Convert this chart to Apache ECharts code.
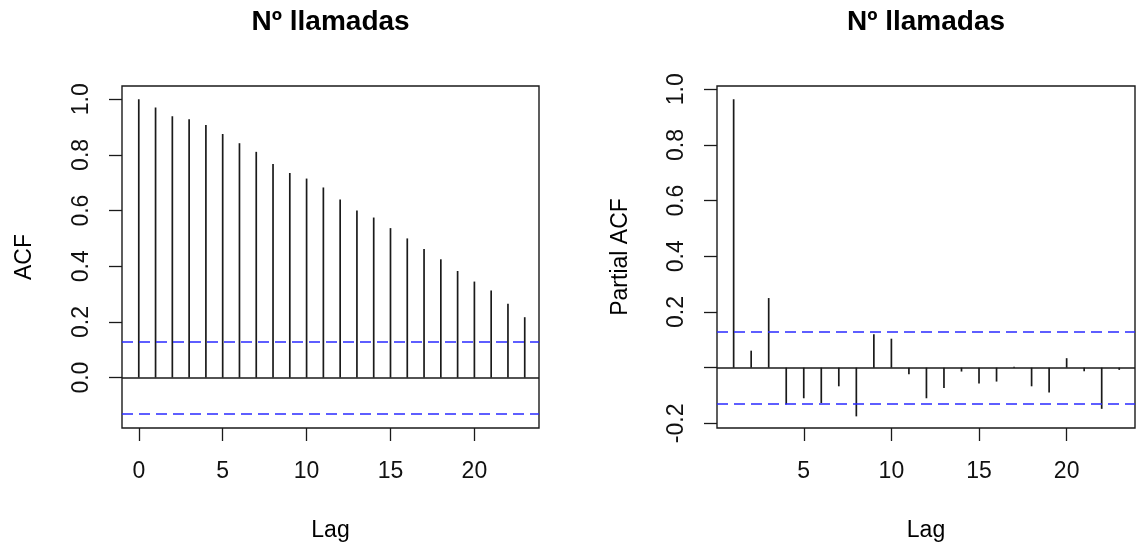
<!DOCTYPE html>
<html>
<head>
<meta charset="utf-8">
<title>Nº llamadas - ACF / PACF</title>
<script src="https://cdn.jsdelivr.net/npm/echarts@6/dist/echarts.min.js"></script>
<style>
  html, body { margin: 0; padding: 0; background: #fff; }
  #chart { width: 1138px; height: 547px; }
</style>
</head>
<body>
<div id="chart"></div>
<script>
// datos
var acfLags = [0, 1, 2, 3, 4, 5, 6, 7, 8, 9, 10, 11, 12, 13, 14, 15, 16, 17, 18, 19, 20, 21, 22, 23];
var acfValues = [1.0, 0.970, 0.939, 0.928, 0.907, 0.875, 0.842, 0.811, 0.767, 0.735, 0.715, 0.683,
                 0.640, 0.600, 0.575, 0.537, 0.500, 0.462, 0.425, 0.383, 0.345, 0.313, 0.265, 0.217];
var pacfLags = [1, 2, 3, 4, 5, 6, 7, 8, 9, 10, 11, 12, 13, 14, 15, 16, 17, 18, 19, 20, 21, 22, 23];
var pacfValues = [0.964, 0.061, 0.250, -0.132, -0.110, -0.127, -0.067, -0.175, 0.120, 0.104, -0.024,
                  -0.110, -0.073, -0.014, -0.057, -0.050, 0.003, -0.067, -0.089, 0.034, -0.013, -0.148, -0.008];
var ciBound = 0.134;

var acfXTicks = [0, 5, 10, 15, 20];
var pacfXTicks = [5, 10, 15, 20];
var acfYTicks = [0, 0.2, 0.4, 0.6, 0.8, 1.0];
var pacfYTicks = [-0.2, 0, 0.2, 0.4, 0.6, 0.8, 1.0];
var pacfYLabels = [-0.2, 0.2, 0.4, 0.6, 0.8, 1.0];

var titleText = 'Nº llamadas';
var FONT = '"Liberation Sans", Arial, sans-serif';
var INK = '#1a1a1a';

var chart = echarts.init(document.getElementById('chart'));

function stem(params, api) {
    var top = api.coord([api.value(0), api.value(1)]);
    var base = api.coord([api.value(0), 0]);
    return {
        type: 'line',
        shape: { x1: base[0], y1: base[1], x2: top[0], y2: top[1] },
        style: { stroke: INK, lineWidth: 1.7 }
    };
}

function pairs(xs, ys) {
    return xs.map(function (x, i) { return [x, ys[i]]; });
}

function xAxisOf(idx, min, max, ticks) {
    return {
        type: 'value', gridIndex: idx, min: min, max: max,
        name: 'Lag', nameLocation: 'middle', nameGap: 91,
        nameTextStyle: { fontFamily: FONT, fontSize: 23, color: '#000' },
        axisLine: { show: false, onZero: false },
        splitLine: { show: false },
        axisTick: { show: true, length: 13, customValues: ticks, lineStyle: { color: INK, width: 1.3 } },
        axisLabel: { customValues: ticks, margin: 32, fontFamily: FONT, fontSize: 23, color: '#111' }
    };
}

function yAxisOf(idx, min, max, ticks, labels, name, gap) {
    return {
        type: 'value', gridIndex: idx, min: min, max: max,
        name: name, nameLocation: 'middle', nameGap: gap, nameRotate: 90,
        nameTextStyle: { fontFamily: FONT, fontSize: 23, color: '#000' },
        axisLine: { show: false, onZero: false },
        splitLine: { show: false },
        axisTick: { show: true, length: 13, customValues: ticks, lineStyle: { color: INK, width: 1.3 } },
        axisLabel: {
            customValues: labels, rotate: 90, margin: 29, fontFamily: FONT, fontSize: 23, color: '#111',
            formatter: function (v) { return v.toFixed(1); }
        }
    };
}

function refLines() {
    return {
        silent: true, symbol: 'none', label: { show: false },
        data: [
            { yAxis: 0, lineStyle: { color: INK, type: 'solid', width: 1.7 } },
            { yAxis: ciBound, lineStyle: { color: '#2a2aff', type: [11, 6], width: 1.5 } },
            { yAxis: -ciBound, lineStyle: { color: '#2a2aff', type: [11, 6], width: 1.5 } }
        ]
    };
}

var option = {
    backgroundColor: '#fff',
    animation: false,
    graphic: [
        { type: 'text', x: 330.6, y: 8, style: { text: titleText, align: 'center', fill: '#000', font: 'bold 28px ' + FONT } },
        { type: 'text', x: 926, y: 8, style: { text: titleText, align: 'center', fill: '#000', font: 'bold 28px ' + FONT } }
    ],
    grid: [
        { left: 122, top: 86, width: 417, height: 344, show: true, borderColor: INK, borderWidth: 1.4, backgroundColor: 'transparent' },
        { left: 717, top: 86, width: 418, height: 344, show: true, borderColor: INK, borderWidth: 1.4, backgroundColor: 'transparent' }
    ],
    xAxis: [
        xAxisOf(0, -1, 23.85, acfXTicks),
        xAxisOf(1, 0.05, 23.9, pacfXTicks)
    ],
    yAxis: [
        yAxisOf(0, -0.181, 1.0475, acfYTicks, acfYTicks, 'ACF', 86),
        yAxisOf(1, -0.2168, 1.0118, pacfYTicks, pacfYLabels, 'Partial ACF', 85)
    ],
    series: [
        {
            type: 'custom', xAxisIndex: 0, yAxisIndex: 0,
            renderItem: stem, data: pairs(acfLags, acfValues),
            markLine: refLines()
        },
        {
            type: 'custom', xAxisIndex: 1, yAxisIndex: 1,
            renderItem: stem, data: pairs(pacfLags, pacfValues),
            markLine: refLines()
        }
    ]
};

chart.setOption(option);
</script>
</body>
</html>
